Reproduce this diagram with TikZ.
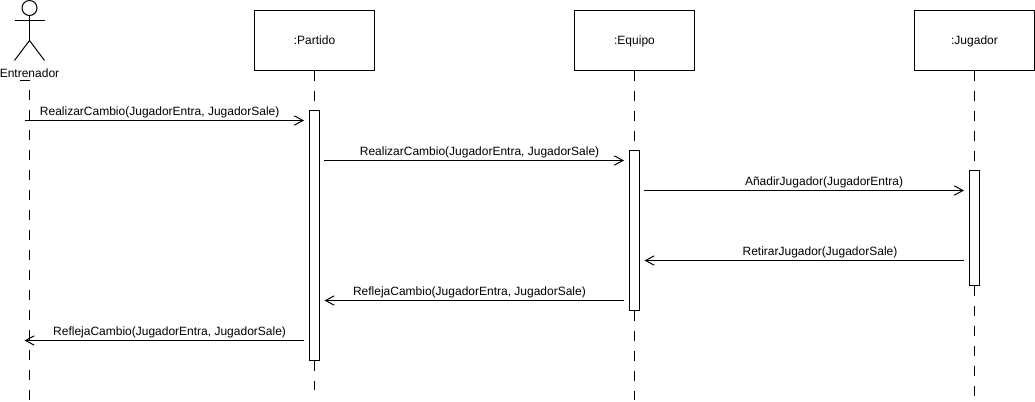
\documentclass[tikz,border=0pt]{standalone}
\usepackage{fontspec}
\setmainfont{Liberation Sans}
\usetikzlibrary{arrows.meta, positioning}

\begin{document}
\begin{tikzpicture}[x=0.75pt, y=-0.75pt, line width=0.75pt, font=\fontsize{9}{11}\selectfont,
            head/.style={rectangle, draw=black, fill=white, minimum width=90pt, minimum height=45pt, inner sep=0pt, text height=6.8pt, text depth=0.8pt},
            act/.style={rectangle, draw=black, fill=white, minimum width=7.5pt, inner sep=0pt},
            figure/.style={circle, draw=black, minimum size=11.25pt, inner sep=0pt},
            life/.style={draw=black, dash pattern=on 7.5pt off 7.5pt},
            limb/.style={draw=black},
            msg/.style={draw=black, -{Straight Barb[length=6.5pt, width=7pt]}},
            lbl/.style={midway, above=1.6pt, inner sep=0pt, text height=7pt, text depth=2pt}]
            \useasboundingbox (0,0) rectangle (1035,402);
            % heads
            \node[head] (partido) at (314.5,40.5) {:Partido};
            \node[head] (equipo)  at (634.5,40.5) {:Equipo};
            \node[head] (jugador) at (974.5,40.5) {:Jugador};
            % activations
            \node[act, minimum height=187.5pt]  (actPartido) at (314.5,235.5)  {};
            \node[act, minimum height=120pt]    (actEquipo)  at (634.5,230.5)  {};
            \node[act, minimum height=86.25pt]  (actJugador) at (974.5,228)    {};
            % ends of the lifelines
            \coordinate (endPartido) at (314.5,390.5);
            \coordinate (endEquipo)  at (634.5,400.5);
            \coordinate (endJugador) at (974.5,400.5);
            \coordinate (topEntrenador) at (29.5,90.5);
            \coordinate (endEntrenador) at (29.5,400.5);
            \coordinate (tickA) at (19.5,80.5);
            \coordinate (tickB) at (29.5,80.5);
            \draw[life] (partido)--(actPartido);
            \draw[life] (actPartido)--(endPartido);
            \draw[life] (equipo)--(actEquipo);
            \draw[life] (actEquipo)--(endEquipo);
            \draw[life] (jugador)--(actJugador);
            \draw[life] (actJugador)--(endJugador);
            \draw[life] (topEntrenador)--(endEntrenador);
            \draw[limb] (tickA)--(tickB);
            % actor
            \node[figure] (entrenador) at (29.5,8) {};
            \coordinate (hip)      at (29.5,40.5);
            \coordinate (armL)     at (14.5,20.5);
            \coordinate (armR)     at (44.5,20.5);
            \coordinate (footL)    at (14.5,60.5);
            \coordinate (footR)    at (44.5,60.5);
            \draw[limb] (entrenador)--(hip);
            \draw[limb] (armL)--(armR);
            \draw[limb] (footL)--(hip)--(footR);
            \node (nameEntrenador) at (29.5,73.5) {Entrenador};
            % messages
            \coordinate (m1a) at (24.5,120.5);  \coordinate (m1b) at (304,120.5);
            \coordinate (m2a) at (324.2,160.5); \coordinate (m2b) at (624,160.5);
            \coordinate (m3a) at (644.2,190.5); \coordinate (m3b) at (964,190.5);
            \coordinate (m4a) at (964,260.5);   \coordinate (m4b) at (644.5,260.5);
            \coordinate (m5a) at (624,300.5);   \coordinate (m5b) at (324.5,300.5);
            \coordinate (m6a) at (304,340.5);   \coordinate (m6b) at (24.5,340.5);
            \draw[msg] (m1a)--(m1b) node[lbl, xshift=-3.4pt]  {RealizarCambio(JugadorEntra, JugadorSale)};
            \draw[msg] (m2a)--(m2b) node[lbl, xshift=4.1pt]   {RealizarCambio(JugadorEntra, JugadorSale)};
            \draw[msg] (m3a)--(m3b) node[lbl, xshift=15pt]    {AñadirJugador(JugadorEntra)};
            \draw[msg] (m4a)--(m4b) node[lbl, xshift=11.8pt]  {RetirarJugador(JugadorSale)};
            \draw[msg] (m5a)--(m5b) node[lbl, xshift=-3.6pt]  {ReflejaCambio(JugadorEntra, JugadorSale)};
            \draw[msg] (m6a)--(m6b) node[lbl, xshift=4pt]     {ReflejaCambio(JugadorEntra, JugadorSale)};
        \end{tikzpicture}
\end{document}
